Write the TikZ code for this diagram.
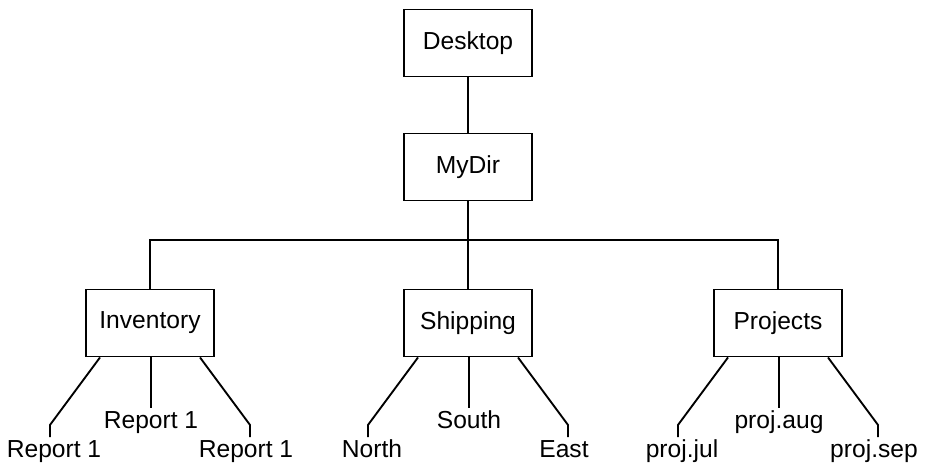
\documentclass[tikz,border=0pt]{standalone}
\usepackage{fontspec}
\setmainfont{Liberation Sans}
\usetikzlibrary{positioning}
\tikzset{
	ordner/.style={draw, line width=1.6pt, minimum width=3.84cm, minimum height=2.01cm, font=\fontsize{21}{25}\selectfont},
	datei/.style={inner sep=0.09cm, text height=0.51cm, text depth=0pt, font=\fontsize{21}{25}\selectfont}
}
\begin{document}
\begin{tikzpicture}[x=0.03cm,y=0.03cm,line width=1.6pt]
		\useasboundingbox (0,0) rectangle (931,464);
		% Ordner oben
		\node[ordner] (Desktop) at (468,421) {Desktop};
		\node[ordner] (MyDir) at (468,297) {MyDir};
		\draw (Desktop) -- (MyDir);
		% Unterordner mit Verteiler
		\foreach \n/\x in {Inventory/150,Shipping/468,Projects/778}
		\node[ordner] (\n) at (\x,141) {\n};
		\coordinate (bus) at (468,224);
		\draw (Inventory.north) |- (bus) -| (Projects.north);
		\draw (MyDir) -- (Shipping);
		% Dateien unter den Ordnern
		\foreach \n/\l/\m/\r in {Inventory/Report 1/Report 1/Report 1,Shipping/North/South/East,Projects/proj.jul/proj.aug/proj.sep}
		{
			\node[datei,anchor=base] (\n-l) at ([shift={(-96,-100.5)}]\n.south) {\l};
			\node[datei,anchor=base] (\n-m) at ([shift={(1,-71.5)}]\n.south) {\m};
			\node[datei,anchor=base] (\n-r) at ([shift={(96,-100.5)}]\n.south) {\r};
			\coordinate (\n-kl) at ([shift={(-100,-67.5)}]\n.south);
			\coordinate (\n-kr) at ([shift={(100,-67.5)}]\n.south);
			\draw ([shift={(-50,0)}]\n.south) -- (\n-kl) -- (\n-kl |- \n-l.north);
			\draw (\n-m.north |- \n.south) -- (\n-m.north);
			\draw ([shift={(50,0)}]\n.south) -- (\n-kr) -- (\n-kr |- \n-r.north);
		}
\end{tikzpicture}
\end{document}
